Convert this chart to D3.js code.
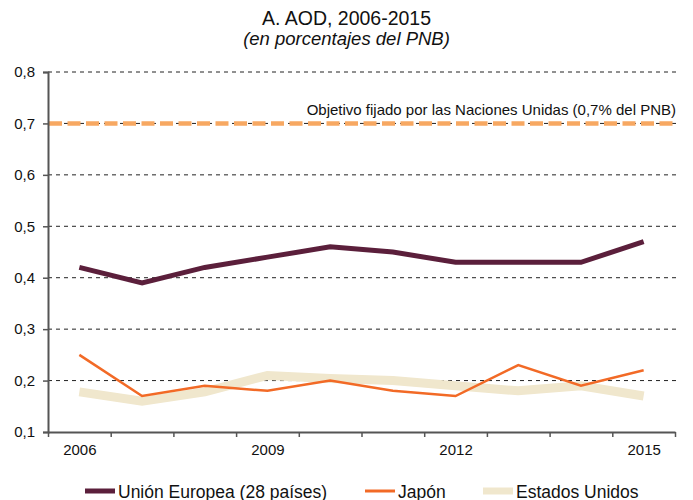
<!DOCTYPE html>
<html>
<head>
<meta charset="utf-8">
<script src="https://cdn.jsdelivr.net/npm/d3@7"></script>
<style>
  body { margin: 0; background: #fff; }
  text { font-family: "Liberation Sans", Arial, sans-serif; fill: #111; }
</style>
</head>
<body>
<script>
let svgWidth = 693
let svgHeight = 500

// data
let years = [2006, 2007, 2008, 2009, 2010, 2011, 2012, 2013, 2014, 2015]
let ue = [0.42, 0.39, 0.42, 0.44, 0.46, 0.45, 0.43, 0.43, 0.43, 0.47]
let japon = [0.25, 0.17, 0.19, 0.18, 0.20, 0.18, 0.17, 0.23, 0.19, 0.22]
let eeuu = [0.178, 0.16, 0.178, 0.21, 0.204, 0.20, 0.19, 0.18, 0.19, 0.17]
let objetivo = 0.7
let yTicks = [0.1, 0.2, 0.3, 0.4, 0.5, 0.6, 0.7, 0.8]
let xLabels = [2006, 2009, 2012, 2015]

let series = [
    { name: "Estados Unidos", values: eeuu, color: "#f0e7cd", width: 9, swatch: 7 },
    { name: "Japón", values: japon, color: "#f26a26", width: 2.5, swatch: 3 },
    { name: "Unión Europea (28 países)", values: ue, color: "#5b1f3b", width: 5, swatch: 5 }
]

let x = d3.scaleLinear()
    .domain([years[0] - 0.5, years[years.length - 1] + 0.5])
    .range([48, 675])

let y = d3.scaleLinear()
    .domain([0.1, 0.8])
    .range([432, 72])

let svg = d3.select("body")
    .append("svg")
    .attr("width", svgWidth)
    .attr("height", svgHeight)

// titles
svg.append("text")
    .attr("x", svgWidth / 2)
    .attr("y", 24.5)
    .attr("text-anchor", "middle")
    .style("font-size", "19.5px")
    .text("A. AOD, 2006-2015")

svg.append("text")
    .attr("x", svgWidth / 2)
    .attr("y", 45)
    .attr("text-anchor", "middle")
    .style("font-size", "18.5px")
    .style("font-style", "italic")
    .text("(en porcentajes del PNB)")

// gridlines
svg.append("g")
    .selectAll("line")
    .data(yTicks.slice(1))
    .enter()
    .append("line")
    .attr("x1", 48)
    .attr("x2", 677)
    .attr("y1", d => y(d))
    .attr("y2", d => y(d))
    .attr("stroke", "#222")
    .attr("stroke-width", 1)
    .attr("stroke-dasharray", "4,4")

// target line
svg.append("line")
    .attr("x1", x.range()[0] + 1)
    .attr("x2", 676)
    .attr("y1", y(objetivo))
    .attr("y2", y(objetivo))
    .attr("stroke", "#f7a862")
    .attr("stroke-width", 4.5)
    .attr("stroke-dasharray", "13,5.5")

svg.append("text")
    .attr("x", 676)
    .attr("y", 115)
    .attr("text-anchor", "end")
    .style("font-size", "15px")
    .text("Objetivo fijado por las Naciones Unidas (0,7% del PNB)")

// y axis
let yAxis = d3.axisLeft(y)
    .tickValues(yTicks)
    .tickSize(5)
    .tickPadding(8)
    .tickFormat(d => d3.format(".1f")(d).replace(".", ","))

let gy = svg.append("g")
    .attr("transform", "translate(48,0)")
    .call(yAxis)
gy.select(".domain").attr("stroke", "#555").attr("stroke-width", 2)
gy.selectAll(".tick line").attr("stroke", "#555").attr("stroke-width", 1.5)
gy.selectAll(".tick text").style("font-size", "15px").attr("fill", "#111")

// x axis: ticks at band edges, labels every third year
let edges = years.map(d => d - 0.5).concat([years[years.length - 1] + 0.5])
let gx = svg.append("g")
    .attr("transform", "translate(0,432)")
    .call(d3.axisBottom(x).tickValues(edges).tickSize(5).tickSizeOuter(0).tickFormat(""))
gx.select(".domain").attr("stroke", "#555").attr("stroke-width", 2)
gx.selectAll(".tick line").attr("stroke", "#555").attr("stroke-width", 1.5)

let gxl = svg.append("g")
    .attr("transform", "translate(0,432)")
    .call(d3.axisBottom(x).tickValues(xLabels).tickSize(0).tickPadding(12).tickFormat(d3.format("d")))
gxl.select(".domain").remove()
gxl.selectAll(".tick text").style("font-size", "15px").attr("fill", "#111")

// lines
let line = d3.line()
    .x((d, i) => x(years[i]))
    .y(d => y(d))

svg.append("g")
    .selectAll("path")
    .data(series)
    .enter()
    .append("path")
    .attr("d", d => line(d.values))
    .attr("fill", "none")
    .attr("stroke", d => d.color)
    .attr("stroke-width", d => d.width)
    .attr("stroke-linejoin", "miter")

// legend
let legendItems = [
    { s: series[2], x: 85, w: 30 },
    { s: series[1], x: 365, w: 30 },
    { s: series[0], x: 483, w: 30 }
]
let legend = svg.append("g")
    .selectAll("g")
    .data(legendItems)
    .enter()
    .append("g")
    .attr("transform", d => "translate(" + d.x + ",491)")

legend.append("line")
    .attr("x1", 0)
    .attr("x2", d => d.w)
    .attr("stroke", d => d.s.color)
    .attr("stroke-width", d => d.s.swatch)

legend.append("text")
    .attr("x", d => d.w + 3)
    .attr("y", 6.5)
    .style("font-size", "17.5px")
    .text(d => d.s.name)
</script>
</body>
</html>
